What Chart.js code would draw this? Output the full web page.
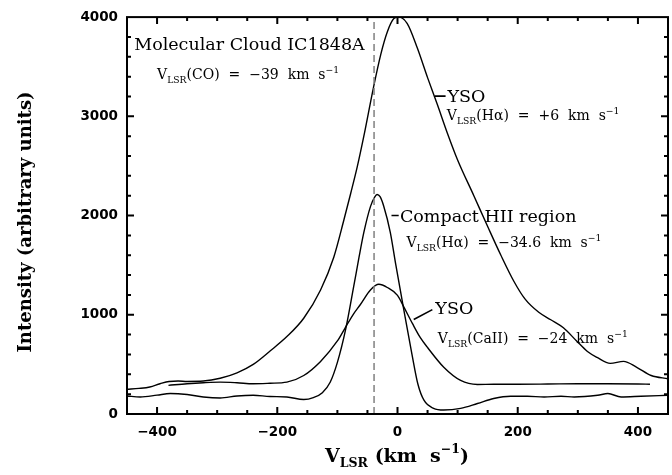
<!DOCTYPE html>
<html>
<head>
<meta charset="utf-8">
<script src="https://cdn.jsdelivr.net/npm/chart.js@4.4.0/dist/chart.umd.min.js"></script>
<style>
  html, body { margin: 0; padding: 0; background: #fff; }
  #wrap { width: 672px; height: 475px; position: relative; }
</style>
</head>
<body>
<div id="wrap"><canvas id="c"></canvas></div>
<script>
// ── Data (velocity in km/s, intensity in arbitrary units) ──
const ysoHaV = [-450,-430,-412,-395,-380,-365,-350,-323,-295,-267,-240,-212,-184,-156,-128,-106,-89,-78,-67,-56,-40,-28,-17,-6,2,16,33,50,66,83,100,127,150,172,194,212,235,255,276,298,316,332,354,376,398,422,450];
const ysoHaI = [250,258,272,305,328,332,328,332,360,415,500,635,780,965,1250,1580,1960,2220,2490,2800,3290,3620,3850,3985,4000,3937,3688,3390,3124,2830,2560,2200,1890,1600,1333,1160,1025,950,869,736,630,570,510,530,471,388,355];

const hiiV = [-450,-428,-400,-378,-350,-323,-295,-267,-240,-212,-184,-156,-140,-125,-112,-100,-86,-73,-64,-56,-45,-38,-34,-29,-23,-12,-3,10,24,34,44,60,77,105,133,160,188,216,244,272,294,333,350,372,405,450];
const hiiI = [182,172,190,206,196,172,162,182,189,176,172,146,165,215,320,520,860,1280,1580,1830,2090,2185,2212,2190,2096,1831,1510,1068,604,300,139,57,40,57,106,156,179,179,172,179,172,189,206,172,179,189];

const ysoCaV = [-381,-350,-323,-295,-267,-240,-212,-184,-156,-128,-100,-87,-73,-62,-45,-31,-17,0,10,25,38,50,77,105,133,160,200,250,300,350,400,420];
const ysoCaI = [289,305,315,321,315,305,310,321,388,530,736,869,1010,1101,1250,1307,1275,1195,1085,910,769,670,471,338,298,300,300,302,305,305,303,300];

const cloudV = -39;   // V_LSR(CO) of the molecular cloud
const xTicks = [-400, -200, 0, 200, 400];
const yTicks = [0, 1000, 2000, 3000, 4000];

const pts = (xs, ys) => xs.map((x, i) => ({ x: x, y: ys[i] }));
const SERIF = '"DejaVu Serif", serif';

// draw text with sub/superscripts: parts = [[text, ''|'sub'|'sup'], ...]
function rich(ctx, x, y, parts, size, weight) {
  weight = weight || 'normal';
  let cx = x;
  parts.forEach(([t, k]) => {
    const s = k ? size * 0.66 : size;
    const dy = k === 'sub' ? size * 0.28 : k === 'sup' ? -size * 0.45 : 0;
    ctx.font = weight + ' ' + s + 'px ' + SERIF;
    ctx.fillText(t, cx, y + dy);
    cx += ctx.measureText(t).width;
  });
  return cx - x;
}

const framePlugin = {
  id: 'frame',
  afterDatasetsDraw(chart) {
    const { ctx, chartArea: a, scales: { x, y } } = chart;
    ctx.save();
    ctx.strokeStyle = '#000';
    ctx.lineWidth = 2;
    ctx.strokeRect(a.left, a.top, a.right - a.left, a.bottom - a.top);
    ctx.beginPath();
    for (let v = -400; v <= 400; v += 50) {
      const len = v % 200 === 0 ? 7 : 4;
      const px = x.getPixelForValue(v);
      ctx.moveTo(px, a.bottom); ctx.lineTo(px, a.bottom - len);
      ctx.moveTo(px, a.top); ctx.lineTo(px, a.top + len);
    }
    for (let v = 200; v < 4000; v += 200) {
      const len = v % 1000 === 0 ? 7 : 4;
      const py = y.getPixelForValue(v);
      ctx.moveTo(a.left, py); ctx.lineTo(a.left + len, py);
      ctx.moveTo(a.right, py); ctx.lineTo(a.right - len, py);
    }
    ctx.stroke();
    ctx.restore();
  },
  afterDraw(chart) {
    const { ctx, scales: { x, y } } = chart;
    const X = v => x.getPixelForValue(v), Y = v => y.getPixelForValue(v);
    ctx.save();
    ctx.fillStyle = '#000';
    ctx.strokeStyle = '#000';
    ctx.textBaseline = 'alphabetic';
    ctx.textAlign = 'left';

    // annotations
    ctx.font = '17.5px ' + SERIF;
    ctx.fillText('Molecular Cloud IC1848A', X(-438), Y(3672));
    rich(ctx, X(-400), Y(3373), [['V',''],['LSR','sub'],['(CO)  =  \u221239  km  s',''],['\u22121','sup']], 14);

    ctx.lineWidth = 1.6;
    ctx.beginPath();
    ctx.moveTo(X(62), Y(3204)); ctx.lineTo(X(80), Y(3204));
    ctx.moveTo(X(-10), Y(2000)); ctx.lineTo(X(2), Y(2000));
    ctx.moveTo(X(27), Y(952)); ctx.lineTo(X(58), Y(1052));
    ctx.stroke();

    ctx.font = '17.5px ' + SERIF;
    ctx.fillText('YSO', X(83), Y(3144));
    rich(ctx, X(82), Y(2958), [['V',''],['LSR','sub'],['(H\u03b1)  =  +6  km  s',''],['\u22121','sup']], 14);

    ctx.font = '17.5px ' + SERIF;
    ctx.fillText('Compact HII region', X(4), Y(1930));
    rich(ctx, X(15), Y(1682), [['V',''],['LSR','sub'],['(H\u03b1)  =  \u221234.6  km  s',''],['\u22121','sup']], 14);

    ctx.font = '17.5px ' + SERIF;
    ctx.fillText('YSO', X(63), Y(1005));
    rich(ctx, X(67), Y(716), [['V',''],['LSR','sub'],['(CaII)  =  \u221224  km  s',''],['\u22121','sup']], 14);

    // axis titles
    ctx.save();
    ctx.translate(31, 222);
    ctx.rotate(-Math.PI / 2);
    ctx.textAlign = 'center';
    ctx.font = 'bold 18px ' + SERIF;
    ctx.fillText('Intensity (arbitrary units)', 0, 0);
    ctx.restore();

    rich(ctx, 325, 462, [['V',''],['LSR','sub'],[' (km  s',''],['\u22121','sup'],[')','']], 19, 'bold');
    ctx.restore();
  }
};

const line = (data, extra) => Object.assign({
  data: data, borderColor: '#000', backgroundColor: 'transparent',
  borderWidth: 1.4, pointRadius: 0, cubicInterpolationMode: 'monotone'
}, extra || {});

new Chart(document.getElementById('c').getContext('2d'), {
  type: 'line',
  data: {
    datasets: [
      line([{ x: cloudV, y: 0 }, { x: cloudV, y: 4000 }], { borderColor: '#808080', borderWidth: 1.5, borderDash: [7, 4], cubicInterpolationMode: 'default', tension: 0 }),
      line(pts(ysoHaV, ysoHaI)),
      line(pts(hiiV, hiiI)),
      line(pts(ysoCaV, ysoCaI)),
    ]
  },
  options: {
    responsive: true, maintainAspectRatio: false,
    animation: false,
    layout: { padding: { left: 0, top: 12, right: 4, bottom: 0 } },
    scales: {
      x: {
        type: 'linear', min: -450, max: 450,
        grid: { display: false, drawTicks: false }, border: { display: false },
        afterBuildTicks: s => { s.ticks = xTicks.map(v => ({ value: v })); },
        afterFit: s => { s.height = 61; },
        ticks: { color: '#000', padding: 10, maxRotation: 0,
          font: { family: '"DejaVu Sans"', size: 13.5, weight: 'bold' },
          callback: v => (v < 0 ? '\u2212' + Math.abs(v) : '' + v) }
      },
      y: {
        min: 0, max: 4000,
        grid: { display: false, drawTicks: false }, border: { display: false },
        afterBuildTicks: s => { s.ticks = yTicks.map(v => ({ value: v })); },
        afterFit: s => { s.width = 127; },
        ticks: { color: '#000', padding: 9,
          font: { family: '"DejaVu Sans"', size: 13.5, weight: 'bold' },
          callback: v => '' + v }
      }
    },
    plugins: { legend: { display: false }, tooltip: { enabled: false } }
  },
  plugins: [framePlugin]
});
</script>
</body>
</html>
